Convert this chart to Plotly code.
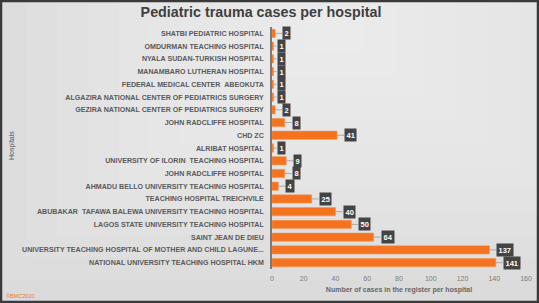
import plotly.graph_objects as go

hospitals = [
    "SHATBI PEDIATRIC HOSPITAL",
    "OMDURMAN TEACHING HOSPITAL",
    "NYALA SUDAN-TURKISH HOSPITAL",
    "MANAMBARO LUTHERAN HOSPITAL",
    "FEDERAL MEDICAL CENTER  ABEOKUTA",
    "ALGAZIRA NATIONAL CENTER OF PEDIATRICS SURGERY",
    "GEZIRA NATIONAL CENTER OF PEDIATRICS SURGERY",
    "JOHN RADCLIFFE HOSPITAL",
    "CHD ZC",
    "ALRIBAT HOSPITAL",
    "UNIVERSITY OF ILORIN  TEACHING HOSPITAL",
    "JOHN RADCLIFFE HOSPITAL",
    "AHMADU BELLO UNIVERSITY TEACHING HOSPITAL",
    "TEACHING HOSPITAL TREICHVILE",
    "ABUBAKAR  TAFAWA BALEWA UNIVERSITY TEACHING HOSPITAL",
    "LAGOS STATE UNIVERSITY TEACHING HOSPITAL",
    "SAINT JEAN DE DIEU",
    "UNIVERSITY TEACHING HOSPITAL OF MOTHER AND CHILD LAGUNE...",
    "NATIONAL UNIVERSITY TEACHING HOSPITAL HKM",
]
cases = [2, 1, 1, 1, 1, 1, 2, 8, 41, 1, 9, 8, 4, 25, 40, 50, 64, 137, 141]
x_ticks = [0, 20, 40, 60, 80, 100, 120, 140, 160]

W, H = 539, 303
ML, MR, MT, MB = 272, 13, 27, 34
PW, PH = W - ML - MR, H - MT - MB
FONT = "Liberation Sans, Arial, sans-serif"

positions = list(range(len(hospitals)))

fig = go.Figure()
fig.add_trace(go.Bar(
    x=cases, y=positions, orientation="h",
    marker=dict(color="#F5731F", line=dict(color="#F89450", width=0.5)),
    hoverinfo="x+text", text=hospitals, textposition="none",
))

# background gradient (stepped)
shapes = []
n = 14
for i in range(n):
    f = 1 - i / n
    cx, cy = 0.62, 0.9
    hw, hh = 0.8 * f, 1.05 * f
    x0 = (cx - hw) * W
    x1 = (cx + hw) * W
    y0 = (cy - hh) * H
    y1 = (cy + hh) * H
    shapes.append(dict(
        type="rect", xref="paper", yref="paper", layer="below",
        x0=(x0 - ML) / PW, x1=(x1 - ML) / PW,
        y0=(y0 - MB) / PH, y1=(y1 - MB) / PH,
        fillcolor="rgba(255,255,255,0.07)", line=dict(width=0),
    ))
# frame
shapes.append(dict(
    type="rect", xref="paper", yref="paper",
    x0=(-ML + 1) / PW, x1=1 + (MR - 1) / PW,
    y0=(-MB + 1) / PH, y1=1 + (MT - 1) / PH,
    line=dict(color="#3a3a3a", width=2.5), fillcolor="rgba(0,0,0,0)",
))

annotations = []
for p, v in zip(positions, cases):
    annotations.append(dict(
        x=v, y=p, xref="x", yref="y",
        text="<b>%d</b>" % v, showarrow=True, arrowhead=0, arrowwidth=0.8,
        arrowcolor="#9a9a9a", ax=7 if v > 1 else 3, ay=0, standoff=0,
        xanchor="left", yanchor="middle",
        font=dict(family=FONT, size=7.5, color="white"),
        bgcolor="#444444", borderpad=1.5,
    ))
annotations.append(dict(
    x=(12 - ML) / PW, y=(MB + PH - (146 - MT) - MB) / PH, xref="paper", yref="paper",
    text="Hospitals",
    textangle=-90, showarrow=False, xanchor="center", yanchor="middle",
    font=dict(family=FONT, size=7, color="#555555"),
))
annotations.append(dict(
    x=(4 - ML) / PW, y=(-MB + 2) / PH, xref="paper", yref="paper", text="©BMC2020",
    showarrow=False, xanchor="left", yanchor="bottom",
    font=dict(family=FONT, size=5.5, color="#F5731F"),
))

fig.update_layout(
    width=W, height=H,
    margin=dict(l=ML, r=MR, t=MT, b=MB, autoexpand=False),
    paper_bgcolor="#d4d4d4", plot_bgcolor="rgba(0,0,0,0)",
    title=dict(text="<b>Pediatric trauma cases per hospital</b>",
               x=261 / W, xanchor="center", y=1 - 12 / H, yanchor="middle",
               font=dict(family=FONT, size=14.3, color="#3f3f3f")),
    bargap=0.35, showlegend=False,
    shapes=shapes, annotations=annotations,
    xaxis=dict(range=[0, 160], tickvals=x_ticks, showgrid=False, zeroline=False,
               showline=False, automargin=False,
               ticks="outside", ticklen=3, tickcolor="rgba(0,0,0,0)",
               tickfont=dict(family=FONT, size=7, color="#7a7a7a"),
               title=dict(text="<b>Number of cases in the register per hospital</b>", standoff=5,
                          font=dict(family=FONT, size=7, color="#666666"))),
    yaxis=dict(range=[len(hospitals) - 0.5, -0.5], tickvals=positions,
               ticktext=["<b>%s</b>" % h for h in hospitals], automargin=False,
               showgrid=False, zeroline=False, showline=True, linecolor="#7a7a7a", linewidth=1.5,
               ticks="", ticklabelstandoff=5,
               tickfont=dict(family=FONT, size=7.1, color="#5a5a5a")),
)

fig.write_html("out.html", config={"displayModeBar": False},
               post_script="document.body.style.margin='0';document.body.style.overflow='hidden';")
